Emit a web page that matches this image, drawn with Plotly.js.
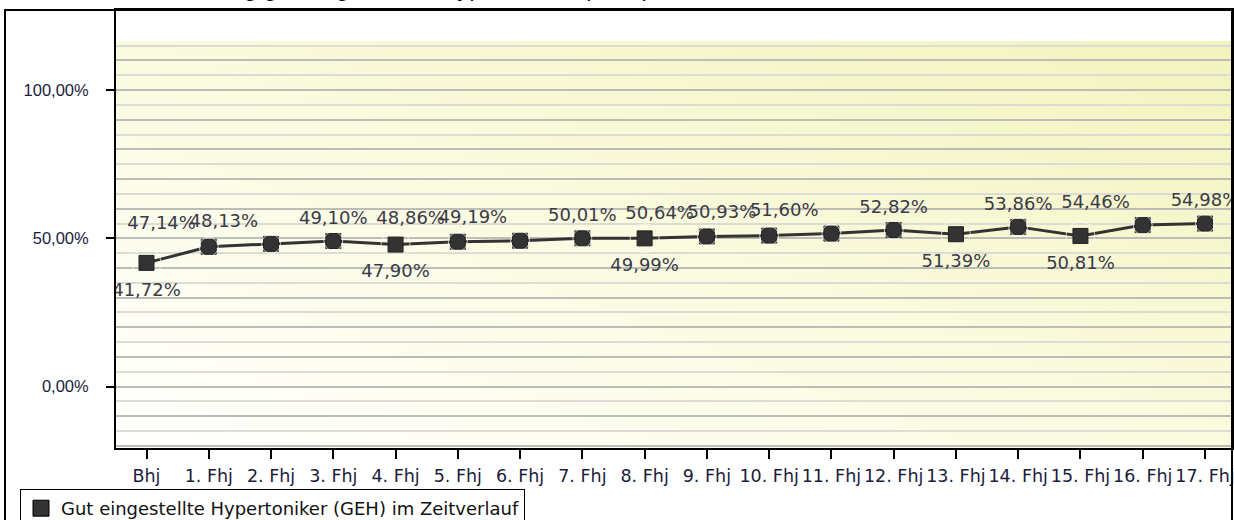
<!DOCTYPE html>
<html>
<head>
<meta charset="utf-8">
<script src="https://cdn.plot.ly/plotly-3.0.1.min.js"></script>
<style>
  html, body { margin: 0; padding: 0; background: #ffffff; }
  #chart { width: 1234px; height: 520px; }
</style>
</head>
<body>
<div id="chart"></div>
<script>
// ---- data ----
const categories = ['Bhj', '1. Fhj', '2. Fhj', '3. Fhj', '4. Fhj', '5. Fhj', '6. Fhj', '7. Fhj', '8. Fhj',
  '9. Fhj', '10. Fhj', '11. Fhj', '12. Fhj', '13. Fhj', '14. Fhj', '15. Fhj', '16. Fhj', '17. Fhj'];
const values = [41.72, 47.14, 48.13, 49.10, 47.90, 48.86, 49.19, 50.01, 49.99,
  50.64, 50.93, 51.60, 52.82, 51.39, 53.86, 50.81, 54.46, 54.98];
const yTickVals = [0, 50, 100];
const yTickText = ['0,00%', '50,00%', '100,00%'];
const seriesName = 'Gut eingestellte Hypertoniker (GEH) im Zeitverlauf';
const titleText = 'Entwicklung gut eingestellter Hypertoniker (GEH)';

// ---- axis / grid configuration ----
const xRange = [-0.49, 17.434];
const yRange = [-20.7, 127];
const bandTop = 116.6;
const gridMajor = [-20, -10, 0, 10, 20, 30, 40, 50, 60, 70, 80, 90, 100, 110];
const gridMinor = [-15, -5, 5, 15, 25, 35, 45, 55, 65, 75, 85, 95, 105, 115];
const labelPos = ['bottom center', 'top left', 'top left', 'top center', 'bottom center', 'top left',
  'top left', 'top center', 'bottom center', 'top left', 'top left', 'top left', 'top center',
  'bottom center', 'top center', 'bottom center', 'top left', 'top center'];

const labels = values.map(v => v.toFixed(2).replace('.', ',') + '%');
const labelGap = labelPos.map(p => p.indexOf('bottom') === 0 ? 29 : 19);

const gradSvg = "<svg xmlns='http://www.w3.org/2000/svg' width='200' height='100' viewBox='0 0 200 100' preserveAspectRatio='none'>" +
  "<defs><linearGradient id='g' x1='0' y1='1' x2='1' y2='0'>" +
  "<stop offset='0' stop-color='#ffffff'/><stop offset='0.45' stop-color='#fbfbe2'/><stop offset='1' stop-color='#f3f3bd'/>" +
  "</linearGradient></defs><rect x='0' y='0' width='200' height='100' fill='url(#g)'/></svg>";
const gradUri = 'data:image/svg+xml;charset=utf-8,' + encodeURIComponent(gradSvg);

const lineTrace = {
  type: 'scatter', mode: 'lines+markers',
  x: categories, y: values,
  line: { color: '#333333', width: 3 },
  marker: { symbol: 'square', size: 15, color: '#333333', line: { color: '#222222', width: 1 } },
  showlegend: false, hoverinfo: 'skip', cliponaxis: true
};
const labelTrace = {
  type: 'scatter', mode: 'markers+text',
  x: categories, y: values,
  text: labels, textposition: labelPos,
  textfont: { family: 'DejaVu Sans, Verdana, sans-serif', size: 18, color: '#3a3a48' },
  marker: { size: labelGap, color: 'rgba(0,0,0,0)' },
  showlegend: false, hoverinfo: 'skip', cliponaxis: true
};
const legendTrace = {
  type: 'scatter', mode: 'markers',
  x: [null], y: [null],
  name: seriesName,
  marker: { symbol: 'square', size: 16, color: '#333333', line: { color: '#000000', width: 1 } },
  showlegend: true, hoverinfo: 'skip'
};
const gridTrace = {
  type: 'scatter', mode: 'markers', x: [null], y: [null], yaxis: 'y2',
  showlegend: false, hoverinfo: 'skip'
};

const W = 1234, H = 520, mL = 116, mR = 2, mT = 10, mB = 72;
const pw = W - mL - mR, ph = H - mT - mB;

const layout = {
  width: W, height: H,
  margin: { l: mL, r: mR, t: mT, b: mB, pad: 0, autoexpand: false },
  paper_bgcolor: '#ffffff',
  plot_bgcolor: '#ffffff',
  showlegend: true,
  xaxis: {
    type: 'category', range: xRange, fixedrange: true, automargin: false,
    showline: true, linecolor: '#000000', linewidth: 2, mirror: true,
    ticks: 'outside', ticklen: 9, tickwidth: 2, tickcolor: '#000000',
    ticklabelstandoff: 2,
    tickfont: { family: 'DejaVu Sans, Verdana, sans-serif', size: 17.5, color: '#1c1c3c' },
    showgrid: false, zeroline: false
  },
  yaxis: {
    range: yRange, fixedrange: true, automargin: false,
    tickmode: 'array', tickvals: yTickVals, ticktext: yTickText,
    ticks: 'outside', ticklen: 8, tickwidth: 2, tickcolor: '#000000',
    ticklabelstandoff: 14,
    tickfont: { family: 'Liberation Sans, Arial, sans-serif', size: 16.5, color: '#1c1c40' },
    showline: true, linecolor: '#000000', linewidth: 2, mirror: true,
    showgrid: false, zeroline: false,
    minor: { tickmode: 'array', tickvals: gridMinor, ticks: '', showgrid: true, gridcolor: '#dcdcd4', gridwidth: 2 }
  },
  yaxis2: {
    overlaying: 'y', anchor: 'x', side: 'left',
    range: yRange, fixedrange: true,
    tickmode: 'array', tickvals: gridMajor,
    showticklabels: false, ticks: '',
    showgrid: true, gridcolor: '#bdbdb8', gridwidth: 2,
    showline: false, zeroline: false
  },
  images: [{
    source: gradUri, xref: 'x', yref: 'y',
    x: xRange[0], y: bandTop, sizex: xRange[1] - xRange[0], sizey: bandTop - yRange[0],
    xanchor: 'left', yanchor: 'top', sizing: 'stretch', layer: 'below'
  }],
  shapes: [{
    type: 'rect', xref: 'paper', yref: 'paper',
    x0: (5 - mL) / pw, x1: 1, y0: -0.3, y1: 1,
    line: { color: '#000000', width: 2 }, fillcolor: 'rgba(0,0,0,0)', layer: 'above'
  }],
  annotations: [{
    text: titleText, xref: 'paper', yref: 'paper',
    x: (390 - mL) / pw, y: 1 + (mT - 3) / ph, xanchor: 'center', yanchor: 'bottom',
    showarrow: false,
    font: { family: 'Liberation Sans, Arial, sans-serif', size: 24, color: '#000000' }
  }],
  legend: {
    x: (20 - mL) / pw, y: (H - mB - 489) / ph, xanchor: 'left', yanchor: 'top',
    bgcolor: '#ffffff', bordercolor: '#000000', borderwidth: 1,
    font: { family: 'DejaVu Sans, Verdana, sans-serif', size: 18, color: '#111111' },
    itemclick: false, itemdoubleclick: false
  }
};

Plotly.newPlot('chart', [gridTrace, lineTrace, labelTrace, legendTrace], layout,
  { displayModeBar: false, staticPlot: true });
</script>
</body>
</html>
